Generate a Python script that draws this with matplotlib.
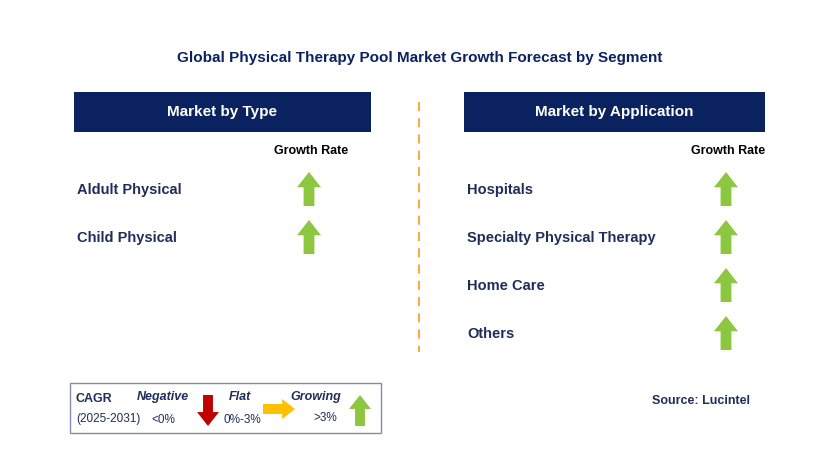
import matplotlib
matplotlib.use("Agg")
import matplotlib.pyplot as plt
from matplotlib.patches import Rectangle, Polygon

plt.rcParams["font.family"] = "Liberation Sans"

title = "Global Physical Therapy Pool Market Growth Forecast by Segment"
type_segments = ["Aldult Physical", "Child Physical"]
type_trend = ["up", "up"]
app_segments = ["Hospitals", "Specialty Physical Therapy", "Home Care", "Others"]
app_trend = ["up", "up", "up", "up"]
source = "Source: Lucintel"

NAVY = "#0b2260"
GREEN = "#8dc63f"
RED = "#c00000"
AMBER = "#ffc000"
TXT = "#1f2d5a"

fig = plt.figure(figsize=(8.29, 4.65), dpi=100)
ax = fig.add_axes([0, 0, 1, 1])
ax.set_xlim(0, 829)
ax.set_ylim(465, 0)
ax.axis("off")


def up_arrow(cx, top, h=34, w=24, color=GREEN):
    head = h * 0.45
    sw = w * 0.45
    pts = [(cx, top), (cx + w / 2, top + head), (cx + sw / 2, top + head),
           (cx + sw / 2, top + h), (cx - sw / 2, top + h), (cx - sw / 2, top + head),
           (cx - w / 2, top + head)]
    ax.add_patch(Polygon(pts, closed=True, color=color, lw=0))


def down_arrow(cx, top, h=32, w=24, color=RED):
    head = h * 0.45
    sw = w * 0.45
    b = top + h
    pts = [(cx, b), (cx + w / 2, b - head), (cx + sw / 2, b - head),
           (cx + sw / 2, top), (cx - sw / 2, top), (cx - sw / 2, b - head),
           (cx - w / 2, b - head)]
    ax.add_patch(Polygon(pts, closed=True, color=color, lw=0))


def right_arrow(left, cy, w=30, h=22, color=AMBER):
    head = w * 0.4
    sh = h * 0.5
    pts = [(left + w, cy), (left + w - head, cy - h / 2), (left + w - head, cy - sh / 2),
           (left, cy - sh / 2), (left, cy + sh / 2), (left + w - head, cy + sh / 2),
           (left + w - head, cy + h / 2)]
    ax.add_patch(Polygon(pts, closed=True, color=color, lw=0))


ax.text(420, 58, title, ha="center", va="center", fontsize=11, weight="bold", color=NAVY)

# panels
panels = [(74, 371, "Market by Type", type_segments, type_trend, 309),
          (464, 765, "Market by Application", app_segments, app_trend, 726)]
for x0, x1, head, segs, trend, ax_x in panels:
    ax.add_patch(Rectangle((x0, 92), x1 - x0, 40, color=NAVY, lw=0))
    ax.text((x0 + x1) / 2, 112, head, ha="center", va="center", fontsize=11,
            weight="bold", color="white")
    ax.text(ax_x + 2, 151, "Growth Rate", ha="center", va="center", fontsize=9,
            weight="bold", color="black")
    for i, (s, t) in enumerate(zip(segs, trend)):
        y = 190 + 48 * i
        ax.text(x0 + 3, y, s, ha="left", va="center", fontsize=10.5, weight="bold", color=TXT)
        if t == "up":
            up_arrow(ax_x, y - 18)

ax.plot([419, 419], [102, 352], color="#f5a623", lw=1.3, ls=(0, (5, 4)))

# legend
ax.add_patch(Rectangle((70, 383), 311, 50, fill=False, ec="#7f8fa6", lw=1))
ax.text(76, 399, "CAGR", fontsize=9, weight="bold", color=TXT, va="center")
ax.text(76, 419, "(2025-2031)", fontsize=8.5, color=TXT, va="center")
ax.text(163, 397, "Negative", fontsize=9, weight="bold", style="italic", color=TXT, ha="center", va="center")
ax.text(163, 420, "<0%", fontsize=8.5, color=TXT, ha="center", va="center")
down_arrow(208, 395, h=31, w=22)
ax.text(240, 397, "Flat", fontsize=9, weight="bold", style="italic", color=TXT, ha="center", va="center")
ax.text(242, 420, "0%-3%", fontsize=8.5, color=TXT, ha="center", va="center")
right_arrow(263, 409, w=32, h=20)
ax.text(316, 397, "Growing", fontsize=9, weight="bold", style="italic", color=TXT, ha="center", va="center")
ax.text(325, 418, ">3%", fontsize=8.5, color=TXT, ha="center", va="center")
up_arrow(360, 395, h=31, w=22)

ax.text(750, 401, source, ha="right", va="center", fontsize=9, weight="bold", color=TXT)

fig.savefig("out.png", dpi=100, facecolor="white")
